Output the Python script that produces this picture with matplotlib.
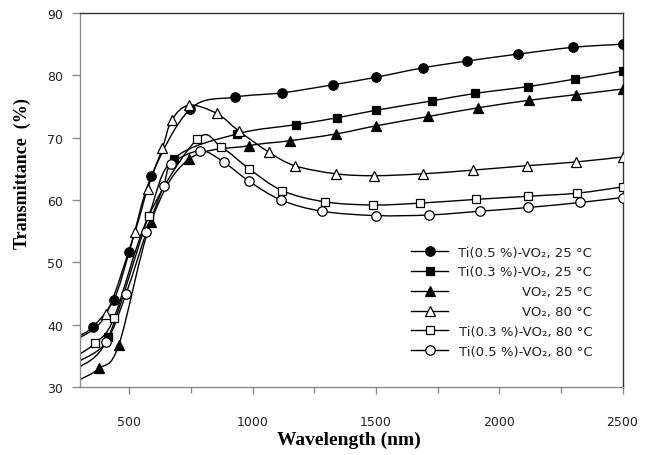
import numpy as np
import matplotlib
matplotlib.use("Agg")
import matplotlib.pyplot as plt
from matplotlib.path import Path
from matplotlib.patches import PathPatch
from matplotlib.lines import Line2D

# ---------------- data ----------------
labels = ["Ti(0.5 %)-VO\u2082, 25 \u00b0C",
          "Ti(0.3 %)-VO\u2082, 25 \u00b0C",
          "VO\u2082, 25 \u00b0C",
          "VO\u2082, 80 \u00b0C",
          "Ti(0.3 %)-VO\u2082, 80 \u00b0C",
          "Ti(0.5 %)-VO\u2082, 80 \u00b0C"]

# first point of each series (x = 300) is where the line enters the plot, no marker
x_ti05_25 = [300, 351, 437, 500, 589, 747, 927, 1121, 1328, 1501, 1690, 1871, 2075, 2301, 2500]
y_ti05_25 = [38.3, 39.6, 44.0, 51.7, 63.8, 74.6, 76.5, 77.2, 78.5, 79.7, 81.2, 82.3, 83.4, 84.5, 85.0]

x_ti03_25 = [300, 415, 578, 680, 937, 1177, 1344, 1501, 1727, 1902, 2118, 2307, 2500]
y_ti03_25 = [33.2, 38.0, 57.4, 66.6, 70.6, 72.1, 73.2, 74.4, 75.9, 77.1, 78.2, 79.4, 80.7]

x_vo2_25 = [300, 379, 457, 588, 740, 984, 1150, 1339, 1501, 1713, 1916, 2122, 2311, 2500]
y_vo2_25 = [31.2, 33.0, 36.7, 56.5, 66.5, 68.7, 69.5, 70.6, 71.9, 73.4, 74.8, 76.0, 76.9, 77.8]

x_vo2_80 = [300, 406, 522, 574, 634, 672, 741, 854, 943, 1065, 1171, 1339, 1494, 1690, 1895, 2111, 2311, 2500]
y_vo2_80 = [37.9, 41.7, 54.8, 61.8, 68.3, 72.8, 75.2, 73.9, 71.1, 67.7, 65.5, 64.2, 63.9, 64.2, 64.8, 65.5, 66.1, 66.9]

x_ti03_80 = [300, 362, 437, 578, 776, 873, 986, 1120, 1294, 1490, 1679, 1906, 2118, 2317, 2500]
y_ti03_80 = [35.3, 37.1, 41.0, 57.4, 69.8, 68.5, 65.0, 61.5, 59.7, 59.2, 59.5, 60.1, 60.6, 61.1, 62.1]

x_ti05_80 = [300, 406, 487, 569, 639, 671, 788, 882, 986, 1115, 1281, 1501, 1717, 1922, 2118, 2328, 2500]
y_ti05_80 = [34.2, 37.2, 45.0, 54.8, 62.3, 65.8, 67.9, 66.1, 63.0, 60.0, 58.2, 57.5, 57.6, 58.2, 58.8, 59.6, 60.4]

series_x = [x_ti05_25, x_ti03_25, x_vo2_25, x_vo2_80, x_ti03_80, x_ti05_80]
series_y = [y_ti05_25, y_ti03_25, y_vo2_25, y_vo2_80, y_ti03_80, y_ti05_80]
markers = ["o", "s", "^", "^", "s", "o"]
faces = ["black", "black", "black", "white", "white", "white"]

x_ticks = [500, 1000, 1500, 2000, 2500]
y_ticks = [30, 40, 50, 60, 70, 80, 90]


def smooth_path(x, y):
    """Smoothed (Excel-like) line through the data points using cubic Bezier segments."""
    pts = np.column_stack([x, y]).astype(float)
    n = len(pts)
    verts = [pts[0]]
    codes = [Path.MOVETO]
    for i in range(n - 1):
        p0 = pts[i - 1] if i > 0 else pts[i]
        p1 = pts[i]
        p2 = pts[i + 1]
        p3 = pts[i + 2] if i + 2 < n else pts[i + 1]
        verts += [p1 + (p2 - p0) / 6.0, p2 - (p3 - p1) / 6.0, p2]
        codes += [Path.CURVE4] * 3
    return Path(verts, codes)


def msize(m):
    return 6.3 if m == "s" else 6.8


fig = plt.figure(figsize=(6.55, 4.56), dpi=100)
W, H = 655.0, 456.0
ax = fig.add_axes([80 / W, 1 - 388 / H, 542.5 / W, 374 / H])

for x, y, m, fc in zip(series_x, series_y, markers, faces):
    ax.add_patch(PathPatch(smooth_path(x, y), facecolor="none", edgecolor="black",
                           lw=1.0, zorder=2))
    ax.plot(x, y, ls="none", marker=m, ms=msize(m), mfc=fc, mec="black",
            mew=0.9, markevery=list(range(1, len(x))), zorder=3)

ax.set_xlim(300, 2500)
ax.set_ylim(30, 90)
ax.set_xticks(x_ticks)
ax.set_xticks(list(range(750, 2500, 500)), minor=True)
ax.set_yticks(y_ticks)

for s in ["left", "bottom"]:
    ax.spines[s].set_color("#8a8a8a")
    ax.spines[s].set_linewidth(1.0)
for s in ["top", "right"]:
    ax.spines[s].set_color("#333333")
    ax.spines[s].set_linewidth(1.0)

ax.tick_params(axis="both", which="both", direction="out", color="#8a8a8a", width=1.0,
               labelsize=9, labelcolor="#222222")
ax.tick_params(axis="y", length=6, pad=6)
ax.tick_params(axis="x", which="major", length=5, pad=15)
ax.tick_params(axis="x", which="minor", length=4)

lab_font = dict(family="Liberation Serif", weight="bold")
ax.set_xlabel("Wavelength (nm)", fontsize=14, **lab_font)
ax.xaxis.set_label_coords(0.496, -0.14)
ax.xaxis.label.set_verticalalignment("center")
ax.set_ylabel("Transmittance  (%)", fontsize=13, **lab_font)
ax.yaxis.set_label_coords(-0.107, 0.574)
ax.yaxis.label.set_verticalalignment("center")

# legend: handles on the left, labels right-aligned
handles = [Line2D([], [], color="black", lw=1.0, marker=m, ms=msize(m),
                  mfc=fc, mec="black", mew=0.9) for m, fc in zip(markers, faces)]
leg_font = dict(family=["DejaVu Sans"], size=9.5)
leg = ax.legend(handles, labels, loc="upper left", bbox_to_anchor=(0.611, 0.378),
                frameon=False, handlelength=2.8, handletextpad=0.75, labelspacing=0.52,
                borderpad=0, borderaxespad=0, prop=leg_font)
fig.canvas.draw()
texts = leg.get_texts()
rights = [t.get_window_extent().x1 for t in texts]
xr = max(rights)
for t in texts:
    bx, by = t.get_transform().transform(t.get_position())
    fx, fy = fig.transFigure.inverted().transform((xr, by))
    fig.text(fx, fy, t.get_text(), ha="right", va="baseline", color="#222222",
             family=["DejaVu Sans"], size=9.5)
    t.set_color("none")

fig.savefig("out.png", dpi=100)
